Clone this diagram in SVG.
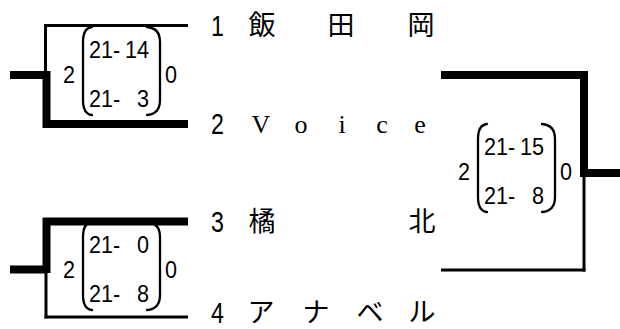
<svg xmlns="http://www.w3.org/2000/svg" width="620" height="329" viewBox="0 0 620 329">
<style>
.thin{stroke:#000;stroke-width:3;fill:none}
.thick{stroke:#000;stroke-width:8;fill:none}
.par{stroke:#000;stroke-width:2.3;fill:none;stroke-linecap:round}
.sc{font-family:"Liberation Sans",Arial,sans-serif;font-size:24px;fill:#000}
.num{font-family:"Liberation Sans",Arial,sans-serif;font-size:29px;fill:#000}
.jp{font-family:"Noto Sans CJK JP","Noto Sans CJK SC",sans-serif;font-size:27px;fill:#000;text-anchor:middle}
.lat{font-family:"Liberation Serif","Times New Roman",serif;font-size:26px;fill:#000;text-anchor:middle}
</style>
<defs>
<g id="parens">
<path class="par" d="M 92 27 Q 83 28 83 42 L 83 100 Q 83 114 92 115"/>
<path class="par" d="M 147 27 Q 160 28 160 42 L 160 100 Q 160 114 147 115"/>
</g>
</defs>
<g id="connectors">
<!-- match 1 -->
<line class="thin" x1="45.5" y1="25.5" x2="188" y2="25.5"/>
<line class="thin" x1="45.5" y1="24" x2="45.5" y2="76"/>
<line class="thick" x1="46.5" y1="71" x2="46.5" y2="128"/>
<line class="thick" x1="43" y1="124" x2="188" y2="124"/>
<line class="thick" x1="10" y1="75" x2="47" y2="75"/>
<!-- match 2 -->
<line class="thick" x1="43" y1="221.5" x2="188" y2="221.5"/>
<line class="thick" x1="46.5" y1="218" x2="46.5" y2="273"/>
<line class="thick" x1="10" y1="269.5" x2="47" y2="269.5"/>
<line class="thin" x1="46" y1="269" x2="46" y2="318.5"/>
<line class="thin" x1="44.5" y1="317" x2="188" y2="317"/>
<!-- match 3 -->
<line class="thick" x1="441" y1="75" x2="588" y2="75"/>
<line class="thick" x1="584" y1="71" x2="584" y2="177"/>
<line class="thick" x1="584" y1="173" x2="620" y2="173"/>
<line class="thin" x1="584" y1="173" x2="584" y2="271.5"/>
<line class="thin" x1="441" y1="270" x2="585.5" y2="270"/>
</g>
<g id="team1">
<text class="num" transform="translate(211,35.5) scale(0.8,1)">1</text>
<text class="jp" x="262 341 421" y="35">飯田岡</text>
</g>
<g id="team2">
<text class="num" transform="translate(211,134) scale(0.8,1)">2</text>
<text class="lat" x="261 301 342 382 420" y="132.5">Voice</text>
</g>
<g id="team3">
<text class="num" transform="translate(211,231.5) scale(0.8,1)">3</text>
<text class="jp" x="262 422" y="231">橘北</text>
</g>
<g id="team4">
<text class="num" transform="translate(211,322.5) scale(0.8,1)">4</text>
<text class="jp" x="261 316 370 422" y="321.5">アナベル</text>
</g>
<g id="score1">
<text class="sc" transform="scale(0.9,1)" x="70" y="83.5">2</text>
<use href="#parens"/>
<text class="sc" transform="scale(0.9,1)" x="98.9 112.2 125.6 138.9 152.2" y="58">21-14</text>
<text class="sc" transform="scale(0.9,1)" x="98.9 112.2 125.6 138.9 152.2" y="107">21- 3</text>
<text class="sc" transform="scale(0.9,1)" x="183.3" y="83.5">0</text>
</g>
<g id="score2" transform="translate(0,195)">
<text class="sc" transform="scale(0.9,1)" x="70" y="83.5">2</text>
<use href="#parens"/>
<text class="sc" transform="scale(0.9,1)" x="98.9 112.2 125.6 138.9 152.2" y="58">21- 0</text>
<text class="sc" transform="scale(0.9,1)" x="98.9 112.2 125.6 138.9 152.2" y="107">21- 8</text>
<text class="sc" transform="scale(0.9,1)" x="183.3" y="83.5">0</text>
</g>
<g id="score3" transform="translate(395,97)">
<text class="sc" transform="scale(0.9,1)" x="70" y="83.5">2</text>
<use href="#parens"/>
<text class="sc" transform="scale(0.9,1)" x="98.9 112.2 125.6 138.9 152.2" y="58">21-15</text>
<text class="sc" transform="scale(0.9,1)" x="98.9 112.2 125.6 138.9 152.2" y="107">21- 8</text>
<text class="sc" transform="scale(0.9,1)" x="183.3" y="83.5">0</text>
</g>
</svg>
